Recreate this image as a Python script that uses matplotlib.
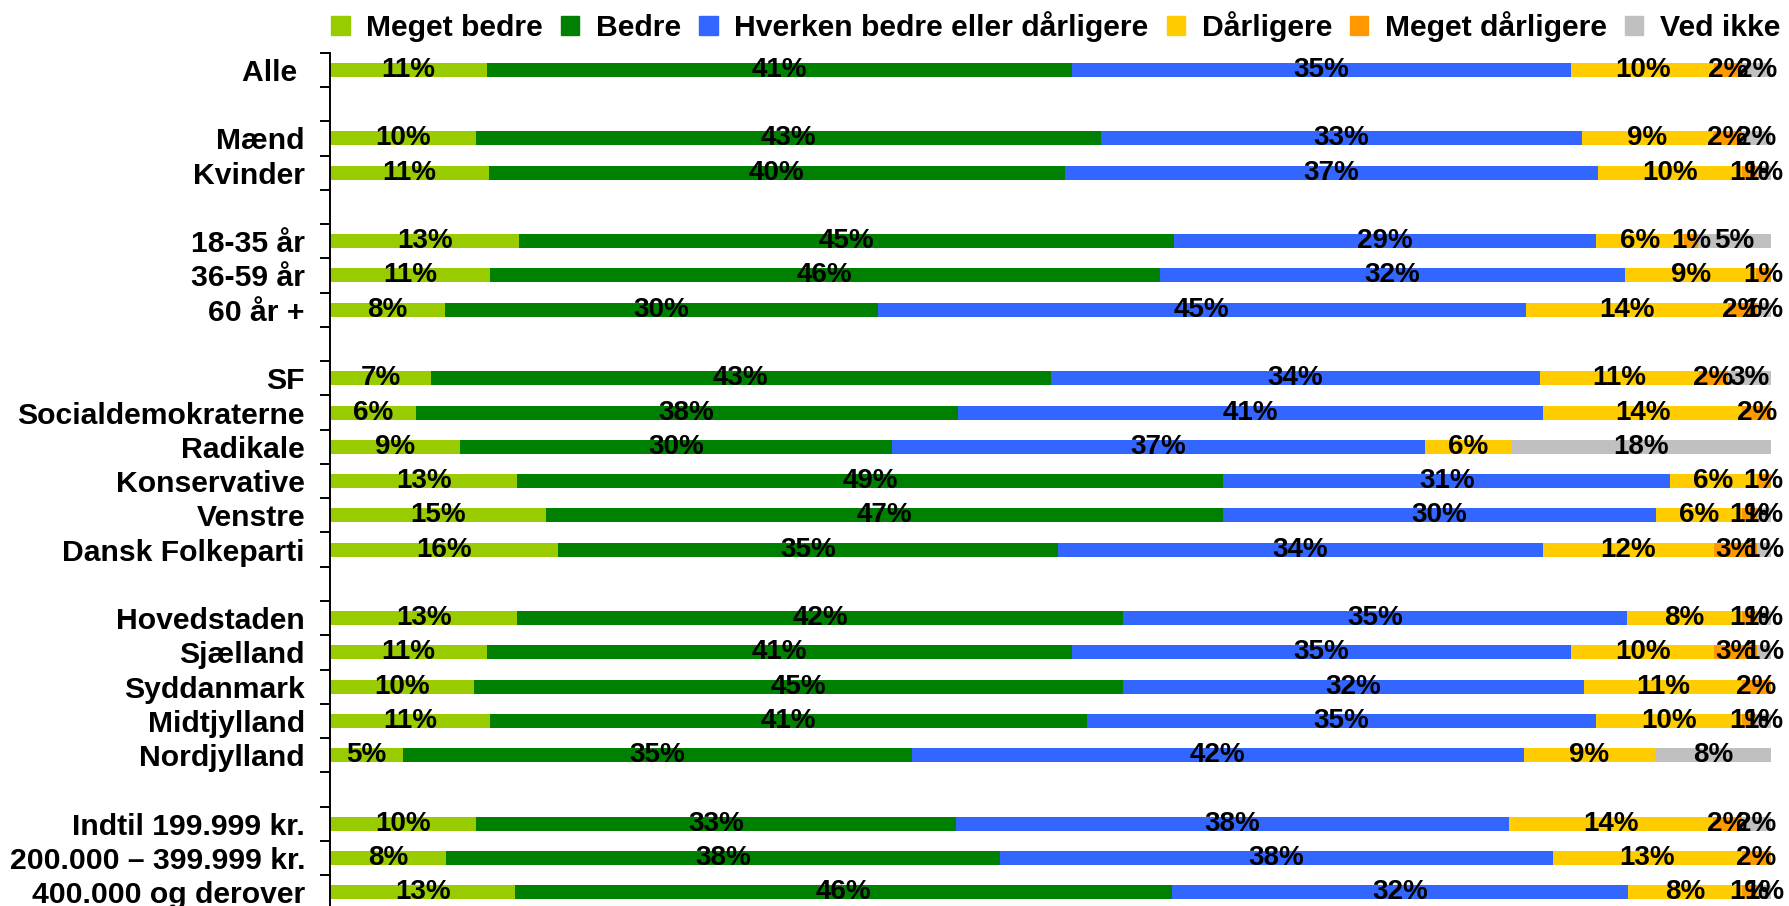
import numpy as np
import matplotlib.pyplot as plt
from matplotlib.patches import Patch

plt.rcParams['font.family'] = ['Liberation Sans', 'DejaVu Sans']
plt.rcParams['font.weight'] = 'bold'

# categories, split into groups (a blank row between groups)
groups = [
    ["Alle "],
    ["Mænd", "Kvinder"],
    ["18-35 år", "36-59 år", "60 år +"],
    ["SF", "Socialdemokraterne", "Radikale", "Konservative", "Venstre", "Dansk Folkeparti"],
    ["Hovedstaden", "Sjælland", "Syddanmark", "Midtjylland", "Nordjylland"],
    ["Indtil 199.999 kr.", "200.000 – 399.999 kr.", "400.000 og derover"],
]

series = ["Meget bedre", "Bedre", "Hverken bedre eller dårligere",
          "Dårligere", "Meget dårligere", "Ved ikke"]
colors = ["#99CC00", "#008000", "#3366FF", "#FFCC00", "#FF9900", "#C0C0C0"]

# percentages per category (same order as groups flattened)
meget_bedre = [11, 10, 11, 13, 11, 8, 7, 6, 9, 13, 15, 16, 13, 11, 10, 11, 5, 10, 8, 13]
bedre = [41, 43, 40, 45, 46, 30, 43, 38, 30, 49, 47, 35, 42, 41, 45, 41, 35, 33, 38, 46]
hverken = [35, 33, 37, 29, 32, 45, 34, 41, 37, 31, 30, 34, 35, 35, 32, 35, 42, 38, 38, 32]
daarligere = [10, 9, 10, 6, 9, 14, 11, 14, 6, 6, 6, 12, 8, 10, 11, 10, 9, 14, 13, 8]
meget_daarligere = [2, 2, 1, 1, 1, 2, 2, 2, 0, 1, 1, 3, 1, 3, 2, 1, 0, 2, 2, 1]
ved_ikke = [2, 2, 1, 5, 0, 1, 3, 0, 18, 0, 1, 1, 1, 1, 0, 1, 8, 2, 0, 1]

values = np.array([meget_bedre, bedre, hverken, daarligere, meget_daarligere, ved_ikke], dtype=float)

# row positions with one empty slot between groups
labels = []
ypos = []
slot = 0
for g in groups:
    for name in g:
        labels.append(name)
        ypos.append(slot)
        slot += 1
    slot += 1
ypos = np.array(ypos)
nslots = slot - 1

# stacked to 100%
widths = values / values.sum(axis=0) * 100

fs = 21.7      # category labels + legend
fs_val = 20    # percentages in the bars

fig = plt.figure(figsize=(17.89, 9.06), dpi=100)
ax = fig.add_axes([330 / 1789, 1 - (52.7 + nslots * 34.27) / 906, 1441 / 1789, nslots * 34.27 / 906])

left = np.zeros(len(labels))
for i in range(len(series)):
    ax.barh(ypos, widths[i], left=left, height=0.41, color=colors[i], label=series[i])
    for y, l, w, v in zip(ypos, left, widths[i], values[i]):
        if v > 0:
            ax.text(l + w / 2, y, f"{v:.0f}%", ha="center", va="center",
                    fontsize=fs_val, fontweight="bold", color="black")
    left += widths[i]

ax.set_xlim(0, 100)
ax.set_ylim(nslots - 0.5, -0.5)
ax.set_yticks(ypos)
ax.set_yticklabels(labels, fontsize=fs, fontweight="bold")
ax.set_yticks(np.arange(-0.5, nslots, 1), minor=True)
ax.tick_params(axis="y", which="major", length=0, pad=18)
ax.tick_params(axis="y", which="minor", length=7, width=1.4, direction="out")
ax.set_xticks([])
for s in ["top", "right", "bottom"]:
    ax.spines[s].set_visible(False)
ax.spines["left"].set_linewidth(1.4)

handles = [Patch(color=c) for c in colors]
fig.legend(handles, series, loc="center", bbox_to_anchor=(1056 / 1789, 1 - 26.5 / 906),
           ncol=6, frameon=False, handlelength=0.6, handleheight=0.6,
           handletextpad=0.56, columnspacing=0.6, prop={"weight": "bold", "size": fs})

fig.savefig("out.png", dpi=100)
